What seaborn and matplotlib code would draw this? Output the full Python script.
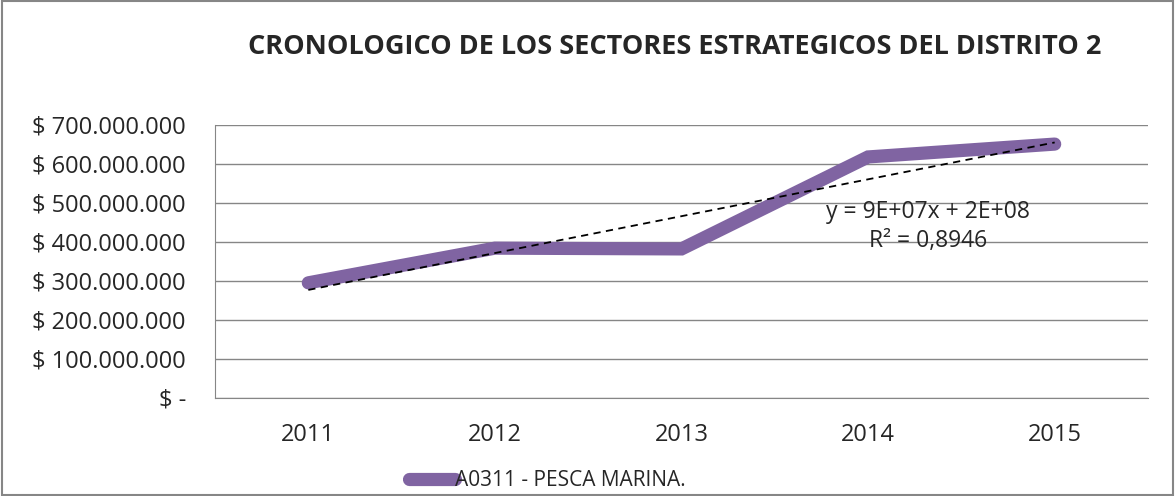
import numpy as np
import pandas as pd
import matplotlib
matplotlib.use("Agg")
import matplotlib.pyplot as plt
import seaborn as sns

# data
years = ["2011", "2012", "2013", "2014", "2015"]
values = [295000000, 384000000, 382000000, 618000000, 651000000]
y_ticks = [0, 100000000, 200000000, 300000000, 400000000, 500000000, 600000000, 700000000]
y_labels = ["$ -", "$ 100.000.000", "$ 200.000.000", "$ 300.000.000", "$ 400.000.000",
            "$ 500.000.000", "$ 600.000.000", "$ 700.000.000"]
series_name = "A0311 - PESCA MARINA."
trend_text = "y = 9E+07x + 2E+08\nR² = 0,8946"
title = "CRONOLOGICO DE LOS SECTORES ESTRATEGICOS DEL DISTRITO 2"

df = pd.DataFrame({"year": years, "value": values, "pos": range(len(years))})

sns.set_style("white")
plt.rcParams["font.family"] = ["Open Sans", "DejaVu Sans"]

fig = plt.figure(figsize=(11.75, 4.96), dpi=100)
ax = fig.add_axes([0.183, 0.198, 0.794, 0.55])

grid_col = "#868686"
purple = "#8064A2"

sns.lineplot(data=df, x="pos", y="value", ax=ax, color=purple, linewidth=9.5,
             solid_capstyle="round", solid_joinstyle="miter", label=series_name)
sns.regplot(data=df, x="pos", y="value", ax=ax, scatter=False, ci=None,
            truncate=True, line_kws={"color": "black", "lw": 1.3, "ls": (0, (4, 3))})

ax.set_xlim(-0.5, 4.5)
ax.set_ylim(0, 700000000)
ax.set_xticks(range(len(years)))
ax.set_xticklabels(years, fontsize=17)
ax.set_yticks(y_ticks)
ax.set_yticklabels(y_labels, fontsize=17)
ax.set_xlabel("")
ax.set_ylabel("")
ax.grid(axis="y", color=grid_col, lw=1)
ax.set_axisbelow(True)
for s in ["top", "right"]:
    ax.spines[s].set_visible(False)
for s in ["left", "bottom"]:
    ax.spines[s].set_color(grid_col)
ax.tick_params(axis="y", length=5, color=grid_col, pad=16)
ax.tick_params(axis="x", length=0, pad=18)

ax.text(3.32, 507000000, trend_text, ha="center", va="top", fontsize=16.5, linespacing=1.25)

fig.text(0.574, 0.905, title, ha="center", va="center", fontsize=19.5, fontweight="bold")

leg = ax.legend(loc="center", bbox_to_anchor=(0.356, -0.305), frameon=False,
                fontsize=15, handlelength=2.2, handletextpad=0.0)
for h in leg.get_lines():
    h.set_solid_capstyle("round")

fig.patches.append(plt.Rectangle((0.002, 0.002), 0.996, 0.996, transform=fig.transFigure,
                                 fill=False, edgecolor=grid_col, lw=1.5))

fig.savefig("out.png", dpi=100)
